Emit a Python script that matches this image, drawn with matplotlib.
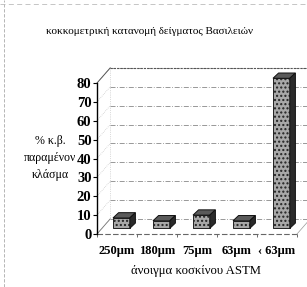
import matplotlib
matplotlib.use("Agg")
import matplotlib.pyplot as plt
from matplotlib.patches import Polygon
from matplotlib.lines import Line2D

# ── Data ──────────────────────────────────────────────────────────────────────
sizes = ["250μm", "180μm", "75μm", "63μm", "‹ 63μm"]
percent = [5.5, 4.0, 7.0, 4.0, 79.5]
yticks = [0, 10, 20, 30, 40, 50, 60, 70, 80]

title = "κοκκομετρική κατανομή δείγματος Βασιλειών"
xlabel = "άνοιγμα κοσκίνου ASTM"
ylabel = "% κ.β.\nπαραμένον\nκλάσμα"

plt.rcParams["font.family"] = ["Liberation Serif", "DejaVu Serif"]

# depth of the 3-D box (category units, value units)
DX, DY = 0.33, 8.0
# bar depth placement and size
BX, BY = 0.11, 3.0
BW, BDX, BDY = 0.42, 0.14, 2.8

fig = plt.figure(figsize=(3.07, 2.87), dpi=100)
fig.patch.set_facecolor("white")
ax = fig.add_axes([97 / 307, (287 - 234) / 287, 200 / 307, 151 / 287])
ax.set_xlim(-0.5, 4.5)
ax.set_ylim(0, 80)
ax.patch.set_visible(False)
for s in ["top", "right", "bottom"]:
    ax.spines[s].set_visible(False)
ax.spines["left"].set_linewidth(1.0)

ax.set_yticks(yticks)
ax.set_yticklabels([str(t) for t in yticks], fontsize=10.5, fontweight="bold")
ax.tick_params(axis="y", length=3, width=0.8, pad=1)
ax.set_xticks(range(len(sizes)))
ax.set_xticklabels(sizes, fontsize=9.0, fontweight="bold")
ax.tick_params(axis="x", length=0, pad=8)
ax.set_xticks([-0.5, 0.5, 1.5, 2.5, 3.5, 4.5], minor=True)
ax.tick_params(axis="x", which="minor", length=2, width=0.6, color="#555555")

# back wall grid + box edges
x0, x1 = -0.5, 4.5
for t in yticks:
    ax.plot([x0 + DX, x1 + DX + 0.1], [t + DY, t + DY], color="#888888",
            lw=0.6, ls=(0, (6, 2, 1, 2)), clip_on=False, zorder=1)
    ax.plot([x0, x0 + DX], [t, t + DY], color="#bbbbbb", lw=0.5,
            ls=":", clip_on=False, zorder=1)
ax.plot([x0, x0 + DX], [80, 80 + DY], color="#555555", lw=0.7, clip_on=False)
ax.plot([x0 + DX, x1 + DX + 0.1], [80 + DY, 80 + DY], color="#555555",
        lw=0.8, ls=(0, (2, 1)), clip_on=False)
ax.plot([x0, x0 + DX], [0, DY], color="#777777", lw=0.6, clip_on=False)
ax.plot([x0 + DX, x0 + DX], [DY, 80 + DY], color="#bbbbbb", lw=0.5,
        ls=":", clip_on=False)
ax.plot([x0, x1], [0, 0], color="#666666", lw=0.8, ls=(0, (5, 2)), clip_on=False)
ax.plot([x1, x1 + DX], [0, DY], color="#999999", lw=0.5, clip_on=False)

# pseudo 3-D columns
for i, v in enumerate(percent):
    l = i + BX - BW / 2
    r = i + BX + BW / 2
    b = BY
    t = BY + v
    front = Polygon([(l, b), (r, b), (r, t), (l, t)], closed=True,
                    facecolor="#a8a8a8", edgecolor="#222222", lw=0.7,
                    hatch="....", clip_on=False, zorder=5)
    top = Polygon([(l, t), (r, t), (r + BDX, t + BDY), (l + BDX, t + BDY)],
                  closed=True, facecolor="#5a5a5a", edgecolor="#111111",
                  lw=0.7, clip_on=False, zorder=5)
    side = Polygon([(r, b), (r + BDX, b + BDY), (r + BDX, t + BDY), (r, t)],
                   closed=True, facecolor="#2a2a2a", edgecolor="#111111",
                   lw=0.7, clip_on=False, zorder=5)
    for p in (front, top, side):
        ax.add_patch(p)

fig.text(150 / 307, 1 - 31 / 287, title, ha="center", va="center", fontsize=8.0)
fig.text(196 / 307, 1 - 271 / 287, xlabel, ha="center", va="center", fontsize=9.2)
fig.text(50 / 307, 1 - 158 / 287, ylabel, ha="center", va="center",
         fontsize=8.6, linespacing=1.55)

# chart frame remnants
fig.add_artist(Line2D([4 / 307, 4 / 307], [0, 1], color="#aaaaaa", lw=0.6,
                      ls=(0, (4, 2))))
fig.add_artist(Line2D([0, 1], [1 - 4 / 287, 1 - 4 / 287], color="#bbbbbb",
                      lw=0.6, ls=(0, (6, 4))))

fig.savefig("out.png", dpi=100, facecolor="white")
